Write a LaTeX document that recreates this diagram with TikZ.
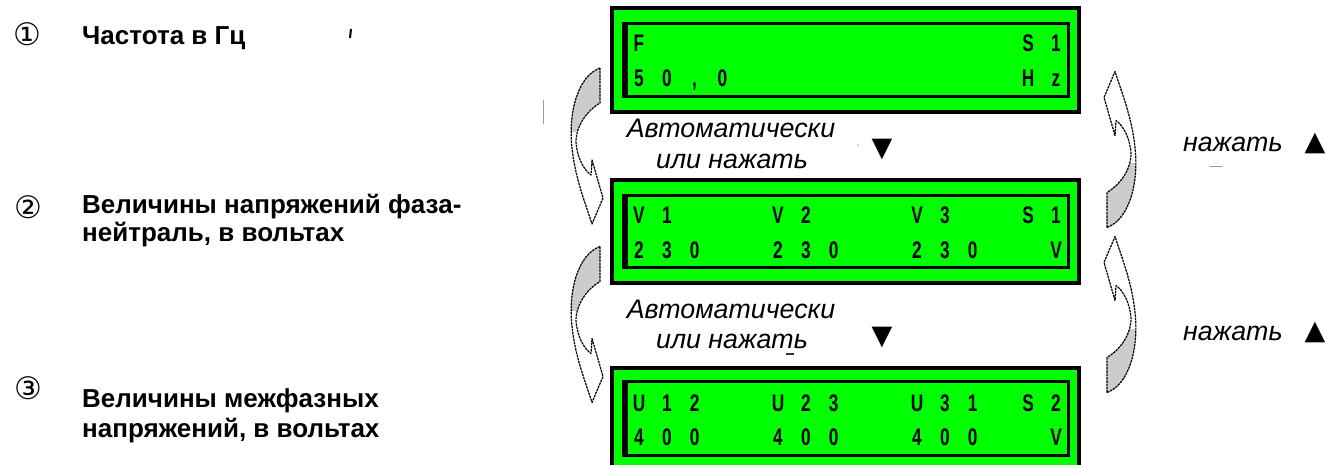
\documentclass[tikz,border=0pt]{standalone}
\usepackage{fontspec}
\setmainfont{Liberation Sans}
\newfontfamily\lcdfont[FakeStretch=0.72]{Liberation Sans}
\newfontfamily\symfont{DejaVu Sans}
\begin{document}
\begin{tikzpicture}[x=1pt,y=-1pt,
  lbl/.style={font=\fontsize{26}{30}\selectfont\bfseries, anchor=base west, inner sep=0pt},
  itl/.style={font=\fontsize{26.8}{30}\selectfont\itshape, anchor=base, inner sep=0pt},
  itlw/.style={font=\fontsize{26.8}{30}\selectfont\itshape, anchor=base west, inner sep=0pt},
  lcd/.style={font=\fontsize{24}{26}\lcdfont\bfseries, anchor=base, inner sep=0pt},
  circnum/.style={font=\fontsize{31}{31}\symfont, inner sep=0pt},
  tri/.style={font=\fontsize{27}{27}\symfont, inner sep=0pt},
  outerbox/.style={fill=lcdgreen, draw=black, line width=3.5pt},
  innerbox/.style={draw=black, line width=3pt},
  arrowline/.style={draw=black, line width=1.2pt, dash pattern=on 2.5pt off 0.8pt, line join=round},
]
\definecolor{lcdgreen}{RGB}{0,255,0}
\useasboundingbox (0,0) rectangle (1329,465);
\clip (0,0) rectangle (1329,465);

% ---- curved arrow shape (local coords, origin = middle of the band end)
\def\arrowpath{(0,-17.5) .. controls (-22,-9.5) and (-32,26.5) .. (-28,62.5)
  .. controls (-25,92.5) and (-14,119.5) .. (-8,138.5)
  -- (3,112.5) -- (-8,74.5) -- (-9,89.5)
  .. controls (-16,84.5) and (-23,72.5) .. (-24,56.5)
  .. controls (-24,39.5) and (-12,24.5) .. (0,17.5) -- cycle}
\newcommand{\curvedarrow}[2]{%
  \begin{scope}[shift={#1}, rotate=#2]
    \fill[white] \arrowpath;
    \begin{scope}
      \clip (-40,-30) rectangle (10,46);
      \fill[black!20] \arrowpath;
    \end{scope}
    \path[arrowline] \arrowpath;
  \end{scope}}

% ---- left column
\node[circnum] (n1) at (27,34) {①};
\node[circnum] (n2) at (28,207) {②};
\node[circnum] (n3) at (28,388) {③};

\node[lbl] (t1) at (82,45) {Частота в Гц};
\node[lbl] (t2a) at (82,213) {Величины напряжений фаза-};
\node[lbl] (t2b) at (82,241) {нейтраль, в вольтах};
\node[lbl] (t3a) at (82,407) {Величины межфазных};
\node[lbl] (t3b) at (82,437) {напряжений, в вольтах};

% stray marks
\draw[black, line width=2pt] (351,29) -- (350,38);
\draw[black!40, line width=1pt] (543,100) -- (543,124);

% display 1
\draw[outerbox] (612,8) rectangle (1079,112);
\draw[innerbox] (623,24) rectangle (1068,97);
\draw[black, line width=3pt] (626,24) -- (626,97);
% display 2
\draw[outerbox] (612,180) rectangle (1079,283);
\draw[innerbox] (623,195) rectangle (1068,267);
\draw[black, line width=3pt] (626,195) -- (626,267);
% display 3
\draw[outerbox] (612,368) rectangle (1079,480);
\draw[innerbox] (623,381) rectangle (1068,455);
\draw[black, line width=3pt] (626,381) -- (626,455);

% LCD characters: column c centre = 639 + 27.8 c
\foreach \c/\t/\y/\nm in {0/F/52/a, 14/S/52/b, 15/1/52/c,
   0/5/87/d, 1/0/87/e, 2/{,}/87/f, 3/0/87/g, 14/H/87/h, 15/z/87/i,
   0/V/223/j, 1/1/223/k, 5/V/223/l, 6/2/223/m, 10/V/223/n, 11/3/223/o, 14/S/223/p, 15/1/223/q,
   0/2/258/r, 1/3/258/s, 2/0/258/t, 5/2/258/u, 6/3/258/v, 7/0/258/w, 10/2/258/x, 11/3/258/y, 12/0/258/z, 15/V/258/A,
   0/U/411/B, 1/1/411/C, 2/2/411/D, 5/U/411/E, 6/2/411/F, 7/3/411/G, 10/U/411/H, 11/3/411/I, 12/1/411/J, 14/S/411/K, 15/2/411/L,
   0/4/445/M, 1/0/445/N, 2/0/445/O, 5/4/445/P, 6/0/445/Q, 7/0/445/R, 10/4/445/S, 11/0/445/T, 12/0/445/U, 15/V/445/W}
  \node[lcd] (ch\nm) at ({639+27.8*\c},\y) {\t};

% centre texts
\node[itl] (a1) at (731,138) {Автоматически};
\node[itl] (a2) at (732,168) {или нажать};
\node[itl] (a3) at (731,318) {Автоматически};
\node[itl] (a4) at (732,348) {или нажать};
\node[tri] (d1) at (882,149) {▼};
\node[tri] (d2) at (882,337) {▼};
\fill[black!30] (858,145) circle (0.8);
\draw[black!80, line width=2pt] (786,354) -- (794,354);

% right texts
\node[itlw] (p1) at (1183,152) {нажать};
\node[itlw] (p2) at (1183,340) {нажать};
\node[tri] (u1) at (1315,143) {▲};
\node[tri] (u2) at (1315,332) {▲};
\draw[black!40, line width=1pt] (1210,167) -- (1222,167);

% curved arrows
\curvedarrow{(600,85.5)}{0}
\curvedarrow{(600,264)}{0}
\curvedarrow{(1107,210)}{180}
\curvedarrow{(1107,375)}{180}
\end{tikzpicture}
\end{document}
